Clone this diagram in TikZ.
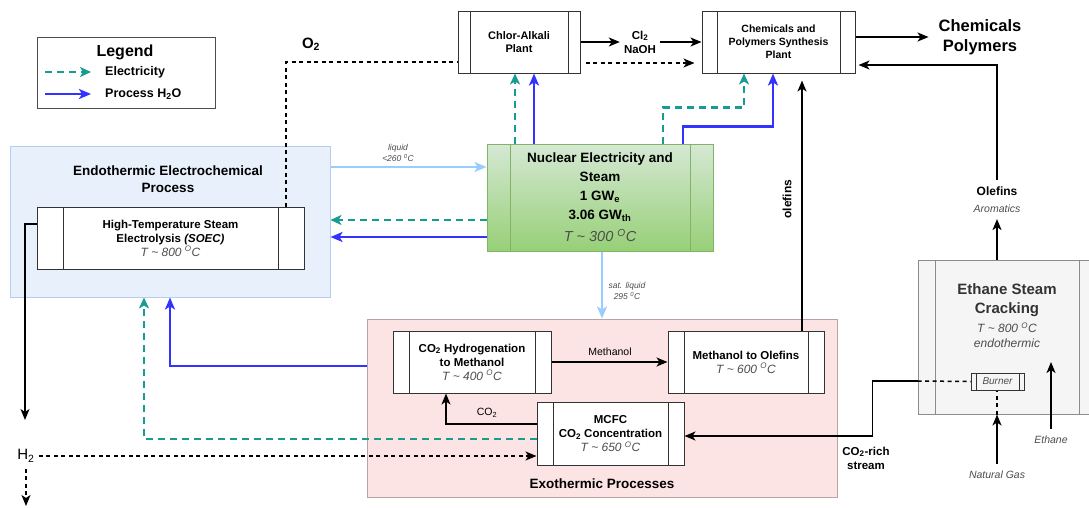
\documentclass[tikz,border=0pt]{standalone}
\usepackage{fontspec}
\setmainfont{Liberation Sans}
\usetikzlibrary{arrows.meta,calc}
\definecolor{elecC}{HTML}{169C92}
\definecolor{procC}{HTML}{3333FF}
\definecolor{lblueC}{HTML}{99CCFF}
\definecolor{endoFill}{HTML}{E8F0FC}
\definecolor{endoLine}{HTML}{B5CDF0}
\definecolor{exoFill}{HTML}{FDE4E4}
\definecolor{exoLine}{HTML}{B8A4A4}
\definecolor{nucTop}{HTML}{D5E8D4}
\definecolor{nucBot}{HTML}{97D077}
\definecolor{nucLine}{HTML}{82B366}
\definecolor{crackFill}{HTML}{F5F5F5}
\definecolor{tgray}{HTML}{4D4D4D}
\newcommand{\fsz}[1]{\pgfmathsetmacro\lsk{#1*1.22}\fontsize{#1}{\lsk}\selectfont}
\newcommand{\Tdeg}[1]{{\fsz{12}\color{tgray}\mdseries\itshape T \textasciitilde{} #1 \textsuperscript{O}C}}
\tikzset{proc line/.store in=\proclinecol, proc line=black!80}
\begin{document}
\begin{tikzpicture}[x=1pt,y=-1pt,
  every node/.style={inner sep=0pt, align=center},
  proc/.style={draw=black!80, fill=white, line width=1pt,
    path picture={\draw[draw=\proclinecol, line width=1pt]
      ([xshift=#1]path picture bounding box.north west) -- ([xshift=#1]path picture bounding box.south west)
      ([xshift=-#1]path picture bounding box.north east) -- ([xshift=-#1]path picture bounding box.south east);}},
  fb/.style={font=\fsz{#1}\bfseries},
  fr/.style={font=\fsz{#1}},
  fi/.style={font=\fsz{#1}\itshape, text=tgray},
  elec/.style={draw=elecC, line width=2.3pt, dash pattern=on 7pt off 5pt, -{Stealth[length=11pt,width=10pt,inset=3pt]}},
  water/.style={draw=procC, line width=2.3pt, -{Stealth[length=12pt,width=10pt,inset=3pt]}},
  lwater/.style={draw=lblueC, line width=2.3pt, -{Stealth[length=12pt,width=10pt,inset=3pt]}},
  flow/.style={draw=black, line width=1.7pt, -{Stealth[length=11pt,width=9pt,inset=3pt]}},
  dflow/.style={draw=black, line width=1.5pt, dash pattern=on 4pt off 3.5pt, -{Stealth[length=11pt,width=9pt,inset=3pt]}},
  dline/.style={draw=black, line width=1.5pt, dash pattern=on 4pt off 3.5pt}
]
\fill[white] (0,0) rectangle (1089,507);
\useasboundingbox (0,0) rectangle (1089,507);

% regions
\node[draw=endoLine, fill=endoFill, line width=1pt, minimum width=320pt, minimum height=151pt] (endo) at (170,221.5) {};
\node[fb=13.5] (endotitle) at (168,179) {Endothermic Electrochemical\\Process};
\node[draw=exoLine, fill=exoFill, line width=1pt, minimum width=470pt, minimum height=178pt] (exo) at (602,408) {};
\node[fb=13.5] (exotitle) at (602,484) {Exothermic Processes};

% legend
\node[draw=black!70, line width=1pt, minimum width=178pt, minimum height=71pt] (legend) at (126,72.5) {};
\node[fb=16] (legtitle) at (125,52) {Legend};
\coordinate (le1) at (45,72); \coordinate (le2) at (91,72);
\coordinate (lw1) at (45,94); \coordinate (lw2) at (91,94);
\draw[elec] (le1) -- (le2);
\draw[water] (lw1) -- (lw2);
\node[fb=12.5, anchor=west] (legel) at (105,72) {Electricity};
\node[fb=12.5, anchor=west] (legpw) at (105,94) {Process H\textsubscript{2}O};

% boxes
\node[proc=12pt, minimum width=122pt, minimum height=62pt, fb=11] (chlor) at (519,42) {Chlor-Alkali\\Plant};
\node[proc=15pt, minimum width=153pt, minimum height=62pt, fb=10.5] (chem) at (778.5,42) {Chemicals and\\Polymers Synthesis\\Plant};
\node[proc=26pt, minimum width=267pt, minimum height=62pt, fb=11.5] (soec) at (170.5,238) {High-Temperature Steam\\Electrolysis \textit{(SOEC)}\\\Tdeg{800}};
\node[proc=23pt, proc line=nucLine, draw=nucLine, top color=nucTop, bottom color=nucBot, minimum width=226pt, minimum height=107pt, font={\fontsize{13.5}{19}\selectfont\bfseries}] (nuc) at (600,197.5) {Nuclear Electricity and\\Steam\\1 GW\textsubscript{e}\\3.06 GW\textsubscript{th}\\[3pt]{\fsz{14.5}\color{tgray}\mdseries\itshape T \textasciitilde{} 300 \textsuperscript{O}C}};
\node[proc=16pt, minimum width=158pt, minimum height=62pt, fb=11.5] (hyd) at (472,362) {CO\textsubscript{2} Hydrogenation\\to Methanol\\\Tdeg{400}};
\node[proc=16pt, minimum width=156pt, minimum height=62pt, fb=11.5] (mto) at (746,362) {Methanol to Olefins\\\Tdeg{600}};
\node[proc=16pt, minimum width=147pt, minimum height=63pt, fb=11.5] (mcfc) at (610.5,433.5) {MCFC\\CO\textsubscript{2} Concentration\\\Tdeg{650}};
\node[proc=17pt, proc line=black!45, draw=black!45, fill=crackFill, minimum width=178pt, minimum height=154pt] (crack) at (1007,337) {};
\node[fb=15, text=black!80] (cracktitle) at (1007,300) {Ethane Steam\\Cracking};
\node[fi=12] (cracksub) at (1007,335) {T \textasciitilde{} 800 \textsuperscript{O}C\\endothermic};
\node[proc=5pt, draw=black!80, fill=crackFill, minimum width=53pt, minimum height=17pt, fi=10] (burner) at (997.5,381.5) {Burner};

% labels
\node[fb=15] (o2) at (311,44) {O\textsubscript{2}};
\node[fb=11.5] (cl2) at (640,42) {Cl\textsubscript{2}\\NaOH};
\node[fb=16.5] (chemout) at (980,37) {Chemicals\\Polymers};
\node[fb=12] (olef) at (997,191) {Olefins};
\node[fi=10.5] (arom) at (997,209) {Aromatics};
\node[fb=12, rotate=90] (olefv) at (787,199) {olefins};
\node[fi=8.5] (liq) at (398,153) {liquid\\<260 \textsuperscript{0}C};
\node[fi=8.5] (satliq) at (627,291) {sat. liquid\\295 \textsuperscript{0}C};
\node[fr=10.5] (meth) at (610,352) {Methanol};
\node[fr=10.5] (co2) at (487,413) {CO\textsubscript{2}};
\node[fr=15] (h2) at (26,456) {H\textsubscript{2}};
\node[fb=11.5] (co2rich) at (866,458) {CO\textsubscript{2}-rich\\stream};
\node[fi=10.5] (ng) at (997,475) {Natural Gas};
\node[fi=10.5] (eth) at (1051,440) {Ethane};
\coordinate (h2in) at (25,420);
\coordinate (h2out) at (26,506);
\coordinate (ethtip) at (1051,362);

% nuclear connections
\draw[lwater] ([yshift=54.5pt]endo.east) -- ([yshift=30.5pt]nuc.west);
\draw[elec] ([yshift=-22.5pt]nuc.west) -- ([yshift=1.5pt]endo.east);
\draw[water] ([yshift=-39.5pt]nuc.west) -- ([yshift=-15.5pt]endo.east);
\draw[elec] ([xshift=-85pt]nuc.north) -- ([xshift=-4pt]chlor.south);
\draw[water] ([xshift=-66pt]nuc.north) -- ([xshift=15pt]chlor.south);
\draw[elec] ([xshift=63pt]nuc.north) -- ++(0,-36) -| ([xshift=-34.5pt]chem.south);
\draw[water] ([xshift=83pt]nuc.north) -- ++(0,-17) -| ([xshift=-5.5pt]chem.south);
\draw[lwater] ([xshift=2pt]nuc.south) -- (exo.north);

% top flows
\draw[dline] ([xshift=115.5pt]soec.north) |- ([yshift=-20pt]chlor.west);
\draw[flow] (chlor.east) -- ([xshift=-4pt]cl2.west);
\draw[flow] ([xshift=4pt]cl2.east) -- (chem.west);
\draw[dflow, shorten <=5pt, shorten >=7pt] ([yshift=-21pt]chlor.east) -- ([yshift=-21pt]chem.west);
\draw[flow] ([yshift=5pt]chem.east) -- ([xshift=-10pt]chemout.west);
\draw[flow] ([yshift=6pt]olef.north) |- ([xshift=3pt,yshift=-23pt]chem.east);
\draw[flow] ([xshift=-10pt]crack.north) -- ([yshift=-6pt]arom.south);
\draw[flow] ([xshift=56pt]mto.north) -- ([xshift=23.5pt,yshift=-7pt]chem.south);

% exothermic flows
\draw[flow] (hyd.east) -- (mto.west);
\draw[flow] ([yshift=9.5pt]mcfc.west) -| ([xshift=-26pt]hyd.south);
\draw[water] ([yshift=42pt]exo.west) -| (endo.south);
\draw[elec] ([yshift=-5.5pt]mcfc.west) -| ([xshift=-26pt]endo.south);
\draw[flow] ([yshift=14pt]soec.west) -| (h2in);
\draw[dflow] ([xshift=4pt]h2.east) -- ([yshift=-22.5pt]mcfc.west);
\draw[dflow] ([yshift=-6pt]h2.south) -- (h2out);

% cracking
\draw[dline] ([yshift=-44pt]crack.west) -- (burner.west);
\draw[flow] ([yshift=-44pt]crack.west) -- ++(-45,0) |- ([yshift=-2.5pt]mcfc.east);
\draw[flow] ([yshift=7pt]ng.north) -- ([xshift=-10pt]crack.south);
\draw[dline] ([xshift=-10pt]crack.south) -- ([xshift=-0.5pt]burner.south);
\draw[flow] ([yshift=7pt]eth.north) -- (ethtip);
\end{tikzpicture}
\end{document}
